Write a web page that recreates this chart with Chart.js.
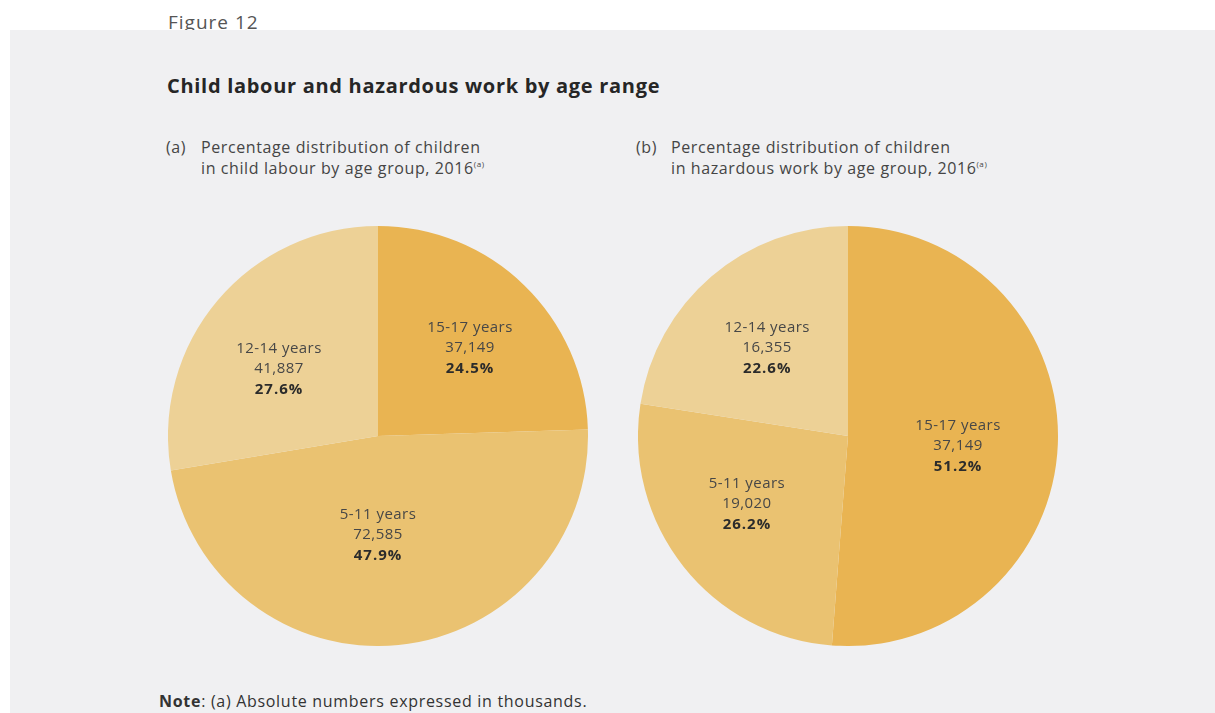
<!DOCTYPE html>
<html>
<head>
<meta charset="utf-8">
<script src="https://cdn.jsdelivr.net/npm/chart.js@4.4.1/dist/chart.umd.min.js"></script>
<style>
  html, body { margin: 0; padding: 0; background: #ffffff; }
  body { width: 1215px; height: 713px; position: relative; overflow: hidden;
         font-family: "Open Sans", "Liberation Sans", sans-serif; }
  .fig { position: absolute; left: 168px; top: 9px; font-size: 19px; letter-spacing: 1px; color: #555; font-weight: 400; }
  .panel { position: absolute; left: 10px; top: 30px; width: 1205px; height: 683px; background: #f0f0f2; }
  .title { position: absolute; left: 167px; top: 72px; font-size: 20px; letter-spacing: 0.7px; font-weight: 700; color: #262626; }
  .sub { position: absolute; top: 137px; font-size: 16px; letter-spacing: 0.6px; color: #454545; line-height: 21px; }
  .sub .tag { position: absolute; left: 0; top: 0; }
  .sub .txt { padding-left: 35px; }
  .sub sup { font-size: 8px; line-height: 0; position: relative; top: -2px; vertical-align: baseline; }
  .sub sup { position: relative; top: -7px; }
  .note { position: absolute; left: 159px; top: 690px; font-size: 16px; letter-spacing: 0.7px; color: #333; }
  .pie { position: absolute; width: 420px; height: 420px; }
</style>
</head>
<body>
<div class="fig">Figure 12</div>
<div class="panel"></div>
<div class="title">Child labour and hazardous work by age range</div>
<div class="sub" style="left:166px"><span class="tag">(a)</span><div class="txt">Percentage distribution of children<br>in child labour by age group, 2016<sup>(a)</sup></div></div>
<div class="sub" style="left:636px"><span class="tag">(b)</span><div class="txt">Percentage distribution of children<br>in hazardous work by age group, 2016<sup>(a)</sup></div></div>
<div class="pie" style="left:168px;top:226px"><canvas id="pieA"></canvas></div>
<div class="pie" style="left:638px;top:226px"><canvas id="pieB"></canvas></div>
<div class="note"><b>Note</b>: (a) Absolute numbers expressed in thousands.</div>

<script>
// Age groups, in the order the slices run clockwise from 12 o'clock
const ageGroups = ['15-17 years', '5-11 years', '12-14 years'];
// Children in child labour, thousands, 2016
const childLabour = [37149, 72585, 41887];
const childLabourPct = ['24.5%', '47.9%', '27.6%'];
// Children in hazardous work, thousands, 2016
const hazardousWork = [37149, 19020, 16355];
const hazardousWorkPct = ['51.2%', '26.2%', '22.6%'];

const sliceColors = ['#e9b452', '#eac271', '#edd196'];

// Writes the three-line label (age group, count, bold share) inside each slice.
// radial: distance from the centre as a share of the radius; nudge: turn in degrees.
const sliceLabels = {
  id: 'sliceLabels',
  afterDatasetsDraw(chart, args, opts) {
    const ctx = chart.ctx;
    const meta = chart.getDatasetMeta(0);
    meta.data.forEach((arc, i) => {
      const mid = (arc.startAngle + arc.endAngle) / 2 + opts.nudge[i] * Math.PI / 180;
      const r = arc.outerRadius * opts.radial[i];
      const x = arc.x + Math.cos(mid) * r;
      const y = arc.y + Math.sin(mid) * r;
      const value = chart.data.datasets[0].data[i];
      ctx.save();
      ctx.textAlign = 'center';
      ctx.textBaseline = 'middle';
      ctx.fillStyle = '#474747';
      ctx.letterSpacing = '0.45px';
      ctx.font = '400 15px "Open Sans", sans-serif';
      ctx.fillText(chart.data.labels[i], x, y - 20);
      ctx.fillText(value.toLocaleString('en-US'), x, y);
      ctx.fillStyle = '#2b2b2b';
      ctx.letterSpacing = '1px';
      ctx.font = '700 15px "Open Sans", sans-serif';
      ctx.fillText(opts.pct[i], x, y + 21);
      ctx.restore();
    });
  }
};

function makePie(id, values, pct, radial, nudge) {
  return new Chart(document.getElementById(id), {
    type: 'pie',
    data: {
      labels: ageGroups,
      datasets: [{
        data: values,
        backgroundColor: sliceColors,
        borderWidth: 0
      }]
    },
    options: {
      responsive: true,
      maintainAspectRatio: false,
      animation: false,
      layout: { padding: 0 },
      plugins: {
        legend: { display: false },
        tooltip: { enabled: false },
        sliceLabels: { pct: pct, radial: radial, nudge: nudge }
      }
    },
    plugins: [sliceLabels]
  });
}

makePie('pieA', childLabour, childLabourPct, [0.606, 0.471, 0.569], [2.2, 5.6, -6.2]);
makePie('pieB', hazardousWork, hazardousWorkPct, [0.526, 0.58, 0.57], [3, 4.5, -1.9]);
</script>
</body>
</html>
